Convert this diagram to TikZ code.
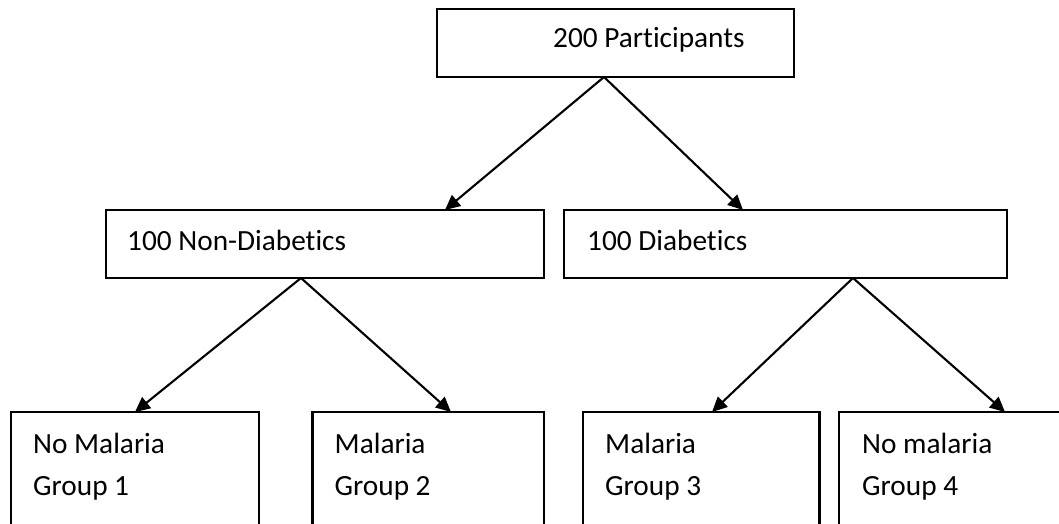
\documentclass[tikz,border=0pt]{standalone}
\usepackage{fontspec}
\setmainfont{Carlito}[Ligatures=NoCommon,RawFeature=-liga]
\usetikzlibrary{arrows.meta}
\begin{document}
\begin{tikzpicture}[x=1pt,y=-1pt,
  box/.style={draw=black,line width=2.1pt,anchor=north west,inner sep=0pt,outer sep=0pt},
  txt/.style={anchor=base west,inner sep=0pt,font=\fontsize{29.3}{35}\selectfont},
  arr/.style={line width=2.1pt,-{Triangle[length=15pt,width=14pt]}}]
\useasboundingbox (0,0) rectangle (1059,524);
\clip (0,0) rectangle (1059,524);
% boxes
\node[box,minimum width=357pt,minimum height=68pt] (top) at (437,9) {};
\node[box,minimum width=438pt,minimum height=68pt] (ml) at (106,210) {};
\node[box,minimum width=443pt,minimum height=68pt] (mr) at (564,210) {};
\node[box,minimum width=248pt,minimum height=130pt] (b1) at (11,412) {};
\node[box,minimum width=231.5pt,minimum height=130pt] (b2) at (312.5,412) {};
\node[box,minimum width=236.5pt,minimum height=130pt] (b3) at (583,412) {};
\node[box,minimum width=241pt,minimum height=130pt] (b4) at (839,412) {};
% texts
\node[txt] (ttop) at ([xshift=116pt,yshift=-39pt]top.north west) {200 Participants};
\node[txt] (tml) at ([xshift=21pt,yshift=-40pt]ml.north west) {100 Non-Diabetics};
\node[txt] (tmr) at ([xshift=23pt,yshift=-40pt]mr.north west) {100 Diabetics};
\node[txt] (tb1a) at ([xshift=22pt,yshift=-41pt]b1.north west) {No Malaria};
\node[txt] (tb1b) at ([xshift=22pt,yshift=-83pt]b1.north west) {Group 1};
\node[txt] (tb2a) at ([xshift=22pt,yshift=-41pt]b2.north west) {Malaria};
\node[txt] (tb2b) at ([xshift=22pt,yshift=-83pt]b2.north west) {Group 2};
\node[txt] (tb3a) at ([xshift=22pt,yshift=-41pt]b3.north west) {Malaria};
\node[txt] (tb3b) at ([xshift=22pt,yshift=-83pt]b3.north west) {Group 3};
\node[txt] (tb4a) at ([xshift=23pt,yshift=-41pt]b4.north west) {No malaria};
\node[txt] (tb4b) at ([xshift=23pt,yshift=-83pt]b4.north west) {Group 4};
% connector points
\coordinate (a0) at ([xshift=167pt]top.south west);
\coordinate (tl) at ([xshift=339pt]ml.north west);
\coordinate (tr) at ([xshift=179pt]mr.north west);
\coordinate (a1) at ([xshift=195pt]ml.south west);
\coordinate (t1) at ([xshift=124pt]b1.north west);
\coordinate (t2) at ([xshift=138.5pt]b2.north west);
\coordinate (a2) at ([xshift=289pt]mr.south west);
\coordinate (t3) at ([xshift=129pt]b3.north west);
\coordinate (t4) at ([xshift=166pt]b4.north west);
\draw[arr] (a0) -- (tl);
\draw[arr] (a0) -- (tr);
\draw[arr] (a1) -- (t1);
\draw[arr] (a1) -- (t2);
\draw[arr] (a2) -- (t3);
\draw[arr] (a2) -- (t4);
\end{tikzpicture}
\end{document}
